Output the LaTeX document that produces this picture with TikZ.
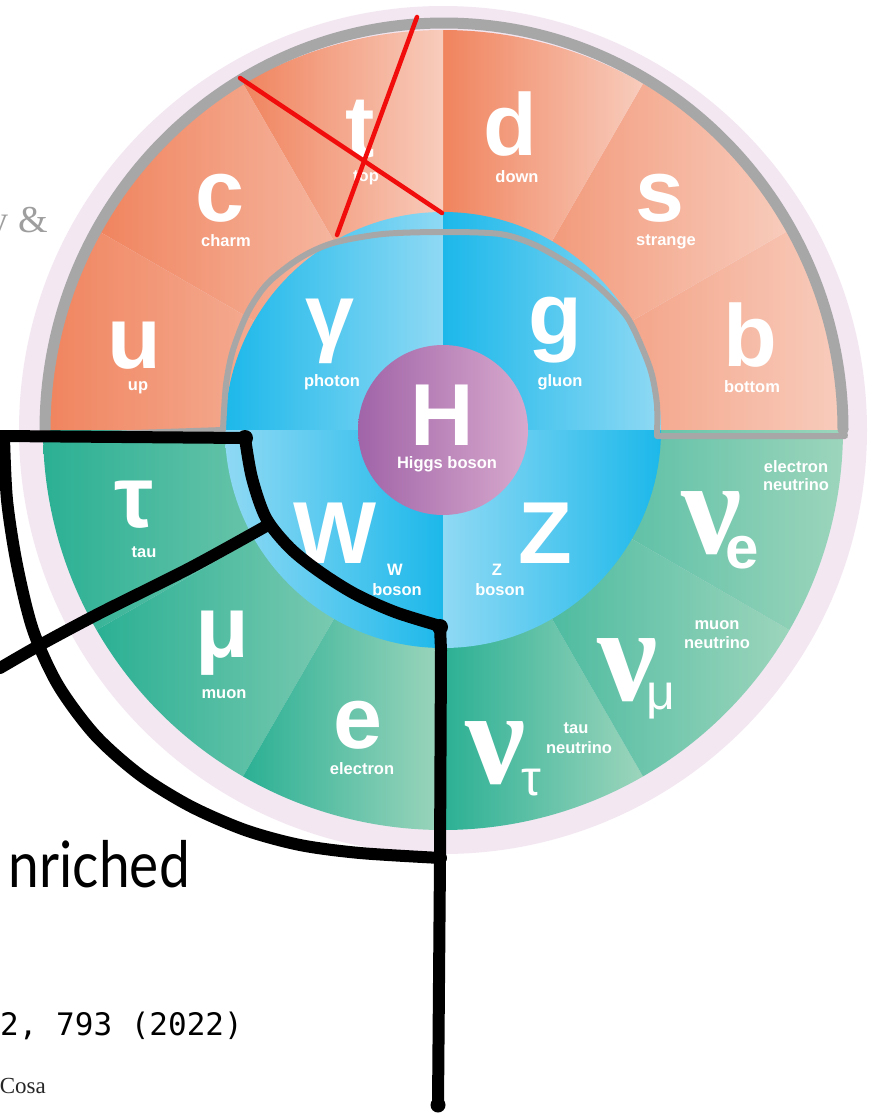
\documentclass[tikz,border=0pt]{standalone}
\usepackage{fontspec}
\newfontfamily\hv{Liberation Sans}
\newfontfamily\tm{Liberation Serif}
\newfontfamily\latofont{Lato}
\newfontfamily\monofont{DejaVu Sans Mono}
\definecolor{qdark}{HTML}{F0845E}
\definecolor{qlight}{HTML}{F8CCBC}
\definecolor{ldark}{HTML}{2BB094}
\definecolor{llight}{HTML}{9CD5BC}
\definecolor{bdark}{HTML}{1CB8EA}
\definecolor{blight}{HTML}{8FD9F4}
\definecolor{hdark}{HTML}{A064A8}
\definecolor{hlight}{HTML}{D8A9CD}
\definecolor{pinkring}{HTML}{F3E7F2}
\definecolor{sketchgray}{HTML}{A7A7A7}
\definecolor{crossred}{HTML}{F20D0D}
\tikzset{
  lblbig/.style={text=white, font=\hv\bfseries\fontsize{88}{88}\selectfont, anchor=base, inner sep=0pt},
  lblsmall/.style={text=white, font=\hv\bfseries\fontsize{16.5}{17}\selectfont, anchor=base, inner sep=0pt},
  lblnu/.style={text=white, font=\tm\bfseries\fontsize{135}{135}\selectfont, anchor=base, inner sep=0pt},
  lblsub/.style={text=white, font=\hv\fontsize{50}{50}\selectfont, anchor=base, inner sep=0pt},
  grayout/.style={draw=sketchgray, line join=round, line cap=round},
  redline/.style={draw=crossred, line width=4.5pt, line cap=round},
  blackline/.style={draw=black, line width=12pt, line cap=round, line join=round},
}
\begin{document}
\begin{tikzpicture}[x=1pt,y=1pt]
\useasboundingbox (0,0) rectangle (875,-1119);
\clip (0,0) rectangle (875,-1119);
\fill[white] (0,0) rectangle (875,-1119);
\coordinate (C) at (443,-430);

% gray heading fragment
\node[anchor=base east, inner sep=0pt, text=black!38, font=\tm\fontsize{38}{38}\selectfont] (amp) at (48,-232) {y \&};

% pale ring
\fill[pinkring] (C) circle[radius=424];

% quark sectors
\foreach \a in {0,30,60,90,120,150}
  \shade[left color=qdark, right color=qlight] (C) -- ++(\a:400) arc[start angle=\a, end angle=\a+30, radius=400] -- cycle;
% lepton sectors
\foreach \a in {180,210,240,270,300,330}
  \shade[left color=ldark, right color=llight] (C) -- ++(\a:400) arc[start angle=\a, end angle=\a+30, radius=400] -- cycle;

% boson quadrants
\shade[left color=bdark, right color=blight] (C) -- ++(90:218) arc[start angle=90, end angle=180, radius=218] -- cycle;
\shade[left color=bdark, right color=blight] (C) -- ++(0:218) arc[start angle=0, end angle=90, radius=218] -- cycle;
\shade[left color=blight, right color=bdark] (C) -- ++(180:218) arc[start angle=180, end angle=270, radius=218] -- cycle;
\shade[left color=blight, right color=bdark] (C) -- ++(270:218) arc[start angle=270, end angle=360, radius=218] -- cycle;

% Higgs
\shade[left color=hdark, right color=hlight] (C) circle[radius=85];

% labels: quarks
\node[lblbig] (u) at (134,-368) {u};
\node[lblsmall] (up) at (138,-390) {up};
\node[lblbig] (c) at (220,-221) {c};
\node[lblsmall] (charm) at (226,-246) {charm};
\node[lblbig] (t) at (360,-157) {t};
\node[lblsmall] (top) at (366,-181) {top};
\node[lblbig] (d) at (510,-155) {d};
\node[lblsmall] (down) at (517,-182) {down};
\node[lblbig] (s) at (660,-221) {s};
\node[lblsmall] (strange) at (666,-245) {strange};
\node[lblbig] (b) at (750,-366) {b};
\node[lblsmall] (bottom) at (752,-392) {bottom};

% bosons
\node[lblbig] (gamma) at (330,-345) {γ};
\node[lblsmall] (photon) at (332,-386) {photon};
\node[lblbig] (g) at (555,-344) {g};
\node[lblsmall] (gluon) at (560,-386) {gluon};
\node[lblbig] (H) at (442,-445) {H};
\node[lblsmall] (higgs) at (447,-468) {Higgs boson};
\node[lblbig] (W) at (335,-563) {W};
\node[lblsmall] (Wa) at (395,-575) {W};
\node[lblsmall] (Wb) at (397,-595) {boson};
\node[lblbig] (Z) at (545,-563) {Z};
\node[lblsmall] (Za) at (497,-575) {Z};
\node[lblsmall] (Zb) at (500,-595) {boson};

% leptons
\node[lblbig] (tau) at (134,-527) {τ};
\node[lblsmall] (taul) at (144,-557) {tau};
\node[lblbig] (mu) at (222,-657) {μ};
\node[lblsmall] (muonl) at (224,-698) {muon};
\node[lblbig] (e) at (358,-748) {e};
\node[lblsmall] (electronl) at (362,-774) {electron};

% neutrinos
\node[lblnu] (nutau) at (496,-783) {ν};
\node[lblsub] (nutaus) at (531,-795) {τ};
\node[lblsmall] (nutaua) at (576,-733) {tau};
\node[lblsmall] (nutaub) at (579,-753) {neutrino};
\node[lblnu] (numu) at (628,-700) {ν};
\node[lblsub] (numus) at (661,-709) {μ};
\node[lblsmall] (numua) at (717,-629) {muon};
\node[lblsmall] (numub) at (717,-648) {neutrino};
\node[lblnu] (nue) at (712,-553) {ν};
\node[lblbig, font=\hv\bfseries\fontsize{60}{60}\selectfont] (nues) at (742,-568) {e};
\node[lblsmall] (nuea) at (796,-472) {electron};
\node[lblsmall] (nueb) at (796,-490) {neutrino};

% gray sketch outline around quarks (without top)
\draw[grayout, line width=6pt] (45,-430) arc[start angle=180, end angle=0, x radius=399, y radius=407]
  -- (845,-436) -- (657,-436)
  -- plot[smooth] coordinates {(657,-436) (657,-405) (652,-375) (643,-350) (627,-317) (600,-288) (570,-265) (535,-245) (500,-234) (443,-232) (383,-234) (333,-243) (300,-258) (268,-283) (248,-312) (233,-350) (226,-385) (223,-430)}
  -- (45,-436) -- cycle;
\draw[grayout, line width=11pt] (45,-430) arc[start angle=180, end angle=0, x radius=399, y radius=407];

% red cross
\coordinate (r1a) at (240,-78);
\coordinate (r1b) at (442,-213);
\coordinate (r2a) at (417,-17);
\coordinate (r2b) at (337,-235);
\draw[redline] (r1a) -- (r1b);
\draw[redline] (r2a) -- (r2b);

% black hand-drawn outline
\draw[blackline] (0,-436) -- (245,-438)
  -- plot[smooth] coordinates {(245,-438) (252,-478) (266,-518) (290,-548) (320,-572) (355,-594) (395,-612) (440,-626)}
  -- (441,-650) -- (440,-860) -- (438,-1105);
\draw[blackline] plot[smooth] coordinates {(4,-437) (7,-500) (17,-565) (33,-630) (58,-685) (95,-735) (140,-775) (190,-806) (245,-830) (300,-845) (360,-853) (441,-858)};
\draw[blackline] plot[smooth] coordinates {(268,-525) (190,-568) (100,-613) (40,-645) (0,-668)};
\fill[black] (245,-438) circle[radius=8];
\fill[black] (440,-627) circle[radius=8];
\fill[black] (438,-1105) circle[radius=7.5];

% slide text fragments
\node[anchor=base east, inner sep=0pt, xscale=0.86, font=\latofont\fontsize{64}{64}\selectfont] (nr) at (190,-887) {nriched};
\node[anchor=base west, inner sep=0pt, font=\monofont\fontsize{31}{31}\selectfont] (ref) at (0,-1035) {2, 793 (2022)};
\node[anchor=base east, inner sep=0pt, text=black!85, font=\tm\fontsize{23}{23}\selectfont] (cosa) at (46,-1093) {Cosa};
\end{tikzpicture}
\end{document}
